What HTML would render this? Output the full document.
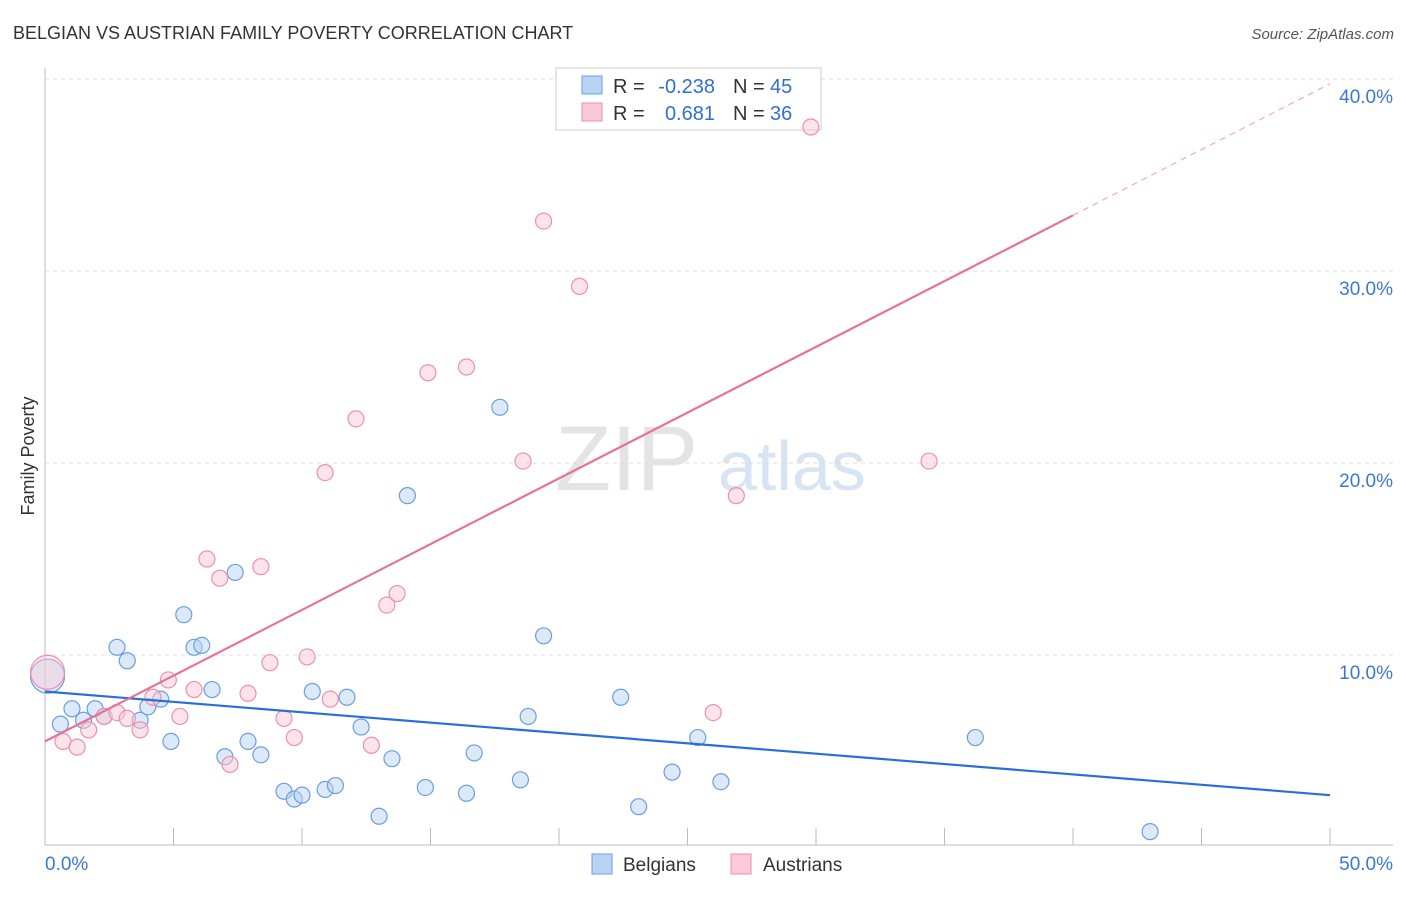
<!DOCTYPE html>
<html><head><meta charset="utf-8"><style>
body{margin:0;background:#fff;font-family:"Liberation Sans",sans-serif;}
svg text{font-family:"Liberation Sans",sans-serif;}
</style></head><body>
<svg id="chart" width="1406" height="892" xmlns="http://www.w3.org/2000/svg">
<text x="13" y="39" font-size="18" fill="#333">BELGIAN VS AUSTRIAN FAMILY POVERTY CORRELATION CHART</text>
<text x="1394" y="39" font-size="15" fill="#555" font-style="italic" text-anchor="end">Source: ZipAtlas.com</text>
<text x="555" y="490" font-size="92" fill="#e4e4e4" font-family="Liberation Serif">ZIP</text>
<text x="718" y="490" font-size="70" fill="#d7e4f3">atlas</text>
<text x="34" y="456" font-size="18" fill="#333" text-anchor="middle" transform="rotate(-90 34 456)">Family Poverty</text>
<g id="grid"></g>
<g>
<rect x="556" y="68" width="265" height="62" fill="#fff" stroke="#ccc"/>
<rect x="582" y="76" width="20" height="18" fill="#b8d3f4" stroke="#6a9fe0"/>
<rect x="582" y="103" width="20" height="18" fill="#fbcad8" stroke="#ee8fae"/>
<text x="613" y="93" font-size="20" fill="#333">R =</text>
<text x="715" y="93" font-size="20" fill="#2f6fd6" text-anchor="end">-0.238</text>
<text x="733" y="93" font-size="20" fill="#333">N =</text>
<text x="770" y="93" font-size="20" fill="#2f6fd6">45</text>
<text x="613" y="120" font-size="20" fill="#333">R =</text>
<text x="715" y="120" font-size="20" fill="#2f6fd6" text-anchor="end">0.681</text>
<text x="733" y="120" font-size="20" fill="#333">N =</text>
<text x="770" y="120" font-size="20" fill="#2f6fd6">36</text>
</g>
<g id="marks"></g>
<g>
<rect x="592" y="854" width="20" height="20" fill="#b8d3f4" stroke="#6a9fe0"/>
<text x="623" y="871" font-size="19" fill="#333">Belgians</text>
<rect x="731" y="854" width="20" height="20" fill="#fbcad8" stroke="#ee8fae"/>
<text x="763" y="871" font-size="19" fill="#333">Austrians</text>
</g>
</svg>
<script>
const yTicks=[10,20,30,40];
const yTickLabels=["10.0%","20.0%","30.0%","40.0%"];
const xTicks=[0,5,10,15,20,25,30,35,40,45,50];
const belgX=[0.1,0.6,1.05,1.5,1.95,2.3,2.8,3.2,3.7,4.0,4.5,4.9,5.4,5.8,6.1,6.5,7.0,7.4,7.9,8.4,9.3,9.7,10.0,10.4,10.9,11.3,11.75,12.3,13.0,13.5,14.1,14.8,16.4,16.7,17.7,18.5,18.8,19.4,22.4,23.1,24.4,25.4,26.3,36.2,43.0];
const belgY=[8.9,6.4,7.2,6.6,7.2,6.8,10.4,9.7,6.6,7.3,7.7,5.5,12.1,10.4,10.5,8.2,4.7,14.3,5.5,4.8,2.9,2.5,2.7,8.1,3.0,3.2,7.8,6.25,1.6,4.6,18.3,3.1,2.8,4.9,22.9,3.5,6.8,11.0,7.8,2.1,3.9,5.7,3.4,5.7,0.8];
const austX=[0.1,0.7,1.25,1.7,2.3,2.8,3.2,3.7,4.2,4.8,5.25,5.8,6.3,6.8,7.2,7.9,8.4,8.75,9.3,9.7,10.2,10.9,11.1,12.1,12.7,13.3,13.7,14.9,16.4,18.6,19.4,20.8,26.0,26.9,29.8,34.4];
const austY=[9.1,5.5,5.2,6.1,6.8,7.0,6.7,6.1,7.8,8.7,6.8,8.2,15.0,14.0,4.3,8.0,14.6,9.6,6.7,5.7,9.9,19.5,7.7,22.3,5.3,12.6,13.2,24.7,25.0,20.1,32.6,29.2,7.0,18.3,37.5,20.1];
const belgTrend=[8.1,2.7];
const austTrend=[5.5,39.75];
const sx=v=>45+v*25.7, sy=v=>847-v*19.2;
const NS="http://www.w3.org/2000/svg";
const grid=document.getElementById('grid'), marks=document.getElementById('marks');
function mk(tag,attrs,parent){const e=document.createElementNS(NS,tag);for(const k in attrs)e.setAttribute(k,attrs[k]);parent.appendChild(e);return e;}
yTicks.forEach((t,i)=>{
 const l=mk('line',{x1:45,x2:1393,y1:sy(t),y2:sy(t),stroke:'#ddd','stroke-dasharray':'4,4'},grid);
 
 
 const tx=mk('text',{x:1393,y:sy(t)+24,'font-size':19,fill:'#3a78d4','text-anchor':'end'},grid);
 tx.textContent=yTickLabels[i];
 
 
});
const ax=mk('line',{x1:45,x2:1393,y1:845,y2:845,stroke:'#bbb'},grid);


const ay=mk('line',{x1:45,x2:45,y1:68,y2:845,stroke:'#bbb'},grid);


xTicks.forEach(t=>{
 const l=mk('line',{x1:sx(t),x2:sx(t),y1:828,y2:845,stroke:'#bbb'},grid);
 
 
});
[[0,"0.0%",'start',45],[50,"50.0%",'end',1393]].forEach(a=>{
 const tx=mk('text',{x:a[3],y:870,'font-size':19,fill:'#3a78d4','text-anchor':a[2]},grid);
 tx.textContent=a[1];
 
 
});
function pts(X,Y,fill,stroke,name){
 X.forEach((x,i)=>{
  const big=i===0;
  const c=mk('circle',{cx:sx(x),cy:sy(Y[i]),r:big?17:8,fill:fill,'fill-opacity':big?0.45:0.5,stroke:stroke,'stroke-width':1.2},marks);
  
  
 });
}
pts(belgX,belgY,'#b8d3f4','#6a9fe0','belgian-point');
pts(austX,austY,'#fbcad8','#ee8fae','austrian-point');
const b=mk('line',{x1:sx(0),y1:sy(belgTrend[0]),x2:sx(50),y2:sy(belgTrend[1]),stroke:'#2a6fd6','stroke-width':2.2},marks);


const ya=v=>austTrend[0]+(austTrend[1]-austTrend[0])*v/50;
const a1=mk('line',{x1:sx(0),y1:sy(ya(0)),x2:sx(40),y2:sy(ya(40)),stroke:'#e8709a','stroke-width':2.2},marks);


const a2=mk('line',{x1:sx(40),y1:sy(ya(40)),x2:sx(50),y2:sy(ya(50)),stroke:'#f0a8c0','stroke-width':1.2,'stroke-dasharray':'6,5'},marks);


</script>
</body></html>
